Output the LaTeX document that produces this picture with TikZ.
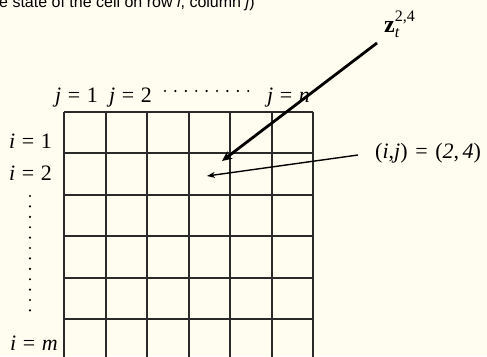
\documentclass[tikz,border=0pt]{standalone}
\usepackage{fontspec}
\setmainfont{Liberation Serif}
\newfontfamily\arialfont{Liberation Sans}
\usetikzlibrary{arrows.meta}
\definecolor{bgcream}{HTML}{FFFDF0}
\definecolor{gridc}{HTML}{2A2A2A}
\newcommand\myeq{\hspace{0.3em}=\hspace{0.3em}}
\begin{document}
\begin{tikzpicture}[x=1pt,y=-1pt,
  lbl/.style={inner sep=0pt,anchor=base west,font=\fontsize{22}{24}\selectfont},
  gridline/.style={draw=gridc,line width=1.2pt},
  dotmark/.style={fill=black,draw=none},
  bigarrow/.style={line width=2.8pt,-{Stealth[length=10pt,width=9pt]}},
  smallarrow/.style={line width=1.4pt,-{Stealth[length=8pt,width=6pt]}}]
\useasboundingbox (0,0) rectangle (487,356);
\fill[bgcream] (0,0) rectangle (487,356);
\begin{scope}
\clip (0,0) rectangle (487,356);
% grid
\foreach \x in {64,106,147,189,230,272,313}
  \draw[gridline] (\x,112) -- (\x,362);
\foreach \y in {112,153,195,236,278,319}
  \draw[gridline] (64,\y) -- (313,\y);
% top caption
\node[inner sep=0pt,anchor=base west,font=\arialfont\fontsize{16}{18}\selectfont] (cap) at (-1,7.5) {e state of the cell on row \textit{i}, column \textit{j})};
\end{scope}
% column labels
\node[lbl] (j1) at (55,102) {\textit{j}\myeq 1};
\node[lbl] (j2) at (109,102) {\textit{j}\myeq 2};
\node[lbl] (jn) at (267,102) {\textit{j}\myeq \textit{n}};
\foreach \k in {0,...,8} \fill[dotmark] ({165+\k*10.4},91) circle (1.2);
% row labels
\node[lbl] (i1) at (9,148) {\textit{i}\myeq 1};
\node[lbl] (i2) at (9,180) {\textit{i}\myeq 2};
\node[lbl] (im) at (10,350) {\textit{i}\myeq \textit{m}};
\foreach \k in {0,...,11} \fill[dotmark] (30,{196+\k*10.4}) circle (1.2);
% annotations
\node[inner sep=0pt,anchor=base west] (z) at (384,32) {\fontsize{24}{26}\selectfont\textbf{z}\rlap{\raisebox{11pt}{\fontsize{16}{18}\selectfont 2,4}}\raisebox{-5pt}{\fontsize{16}{18}\selectfont\textit{t}}};
\node[inner sep=0pt,anchor=base west,font=\fontsize{22}{24}\selectfont] (ij) at (375,158) {(\textit{i},\textit{j})\hspace{0.35em}=\hspace{0.35em}(\textit{2},\hspace{0.15em}\textit{4})};
\coordinate (zstart) at (377,43);
\coordinate (zend) at (222,161);
\coordinate (ijstart) at (358,155);
\coordinate (ijend) at (207,176);
\draw[bigarrow] (zstart) -- (zend);
\draw[smallarrow] (ijstart) -- (ijend);
\end{tikzpicture}
\end{document}
